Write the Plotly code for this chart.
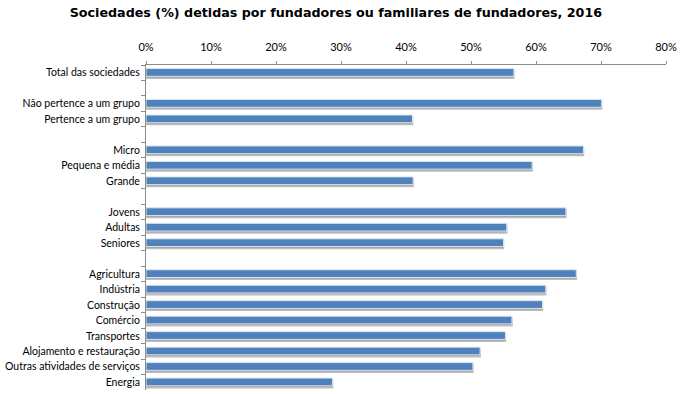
import plotly.graph_objects as go

categories = [
    "Total das sociedades", " ",
    "Não pertence a um grupo", "Pertence a um grupo", "  ",
    "Micro", "Pequena e média", "Grande", "   ",
    "Jovens", "Adultas", "Seniores", "    ",
    "Agricultura", "Indústria", "Construção", "Comércio", "Transportes",
    "Alojamento e restauração", "Outras atividades de serviços", "Energia",
]
values = [
    56.6, None,
    70.1, 41.0, None,
    67.3, 59.4, 41.1, None,
    64.6, 55.5, 55.0, None,
    66.2, 61.5, 61.0, 56.3, 55.3, 51.4, 50.3, 28.7,
]
x_ticks = [0, 10, 20, 30, 40, 50, 60, 70, 80]
x_tick_labels = [f"{v}%" for v in x_ticks]
title = "Sociedades (%) detidas por fundadores ou familiares de fundadores, 2016"

fig = go.Figure()
# shadow
fig.add_trace(go.Bar(
    y=categories, x=values, orientation="h",
    marker=dict(color="#9a9a9a", line=dict(color="#bdbdbd", width=1.5)),
    width=0.5, offset=-0.15, hoverinfo="skip", showlegend=False,
))
fig.add_trace(go.Bar(
    y=categories, x=values, orientation="h",
    marker=dict(color="#4F81BD", line=dict(color="#dbe5f1", width=1)),
    width=0.5, offset=-0.27, showlegend=False,
))

fig.update_layout(
    width=680, height=394,
    margin=dict(l=146, r=14, t=65, b=4),
    paper_bgcolor="white", plot_bgcolor="white",
    barmode="overlay",
    title=dict(text=f"<b>{title}</b>", x=0.494, xanchor="center", y=0.967, yanchor="middle",
               font=dict(family="DejaVu Sans", size=12.7, color="#000000")),
    font=dict(family="Lato", size=10.5, color="#000000"),
)
fig.update_xaxes(
    side="top", range=[0, 80], tickvals=x_ticks, ticktext=x_tick_labels,
    showgrid=False, zeroline=False, showline=True, linecolor="#8c8c8c", linewidth=1,
    ticks="outside", ticklen=3, tickcolor="#8c8c8c", automargin=False,
    ticklabelstandoff=6,
    tickfont=dict(family="Lato", size=11, color="#000000"),
)
fig.update_yaxes(
    type="category", categoryorder="array", categoryarray=categories,
    autorange="reversed", automargin=False,
    showgrid=False, zeroline=False, showline=True, linecolor="#8c8c8c", linewidth=1,
    ticks="outside", ticklen=4, tickcolor="#8c8c8c", tickson="boundaries",
    ticklabelstandoff=3,
    tickfont=dict(family="Lato", size=10.5, color="#000000"),
)

fig.write_html("out.html", config={"displayModeBar": False},
               post_script="document.body.style.margin='0';")
